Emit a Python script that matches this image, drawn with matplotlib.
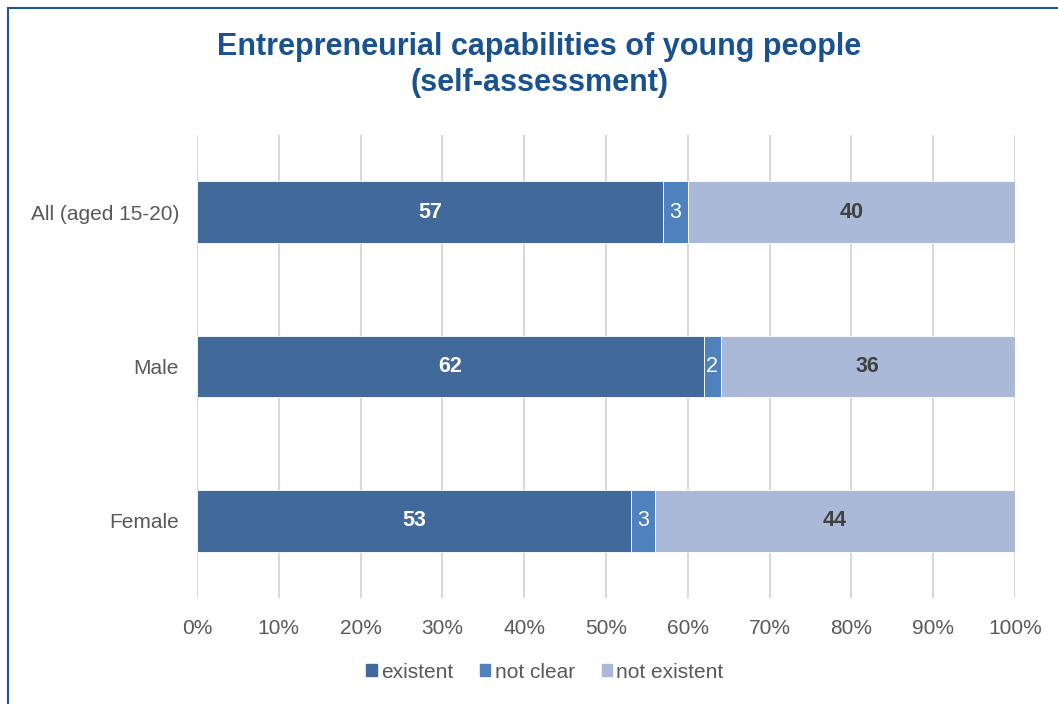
import matplotlib.pyplot as plt
from matplotlib.lines import Line2D
from matplotlib.patches import Patch

# Daten
gruppen = ['All (aged 15-20)', 'Male', 'Female']
existent = [57, 62, 53]
not_clear = [3, 2, 3]
not_existent = [40, 36, 44]
serien = ['existent', 'not clear', 'not existent']
farben = ['#416A9A', '#4F81BD', '#A9B9D7']
text_farben = ['white', 'white', '#404040']
text_gewicht = ['bold', 'normal', 'bold']

plt.rcParams['font.family'] = ['Liberation Sans', 'DejaVu Sans']

fig = plt.figure(figsize=(10.58, 7.04), dpi=100)
ax = fig.add_axes([197 / 1058, 1 - 598 / 704, (1015 - 197) / 1058, (598 - 135) / 704])

y = list(range(len(gruppen)))
links = [0] * len(gruppen)
for werte, name, farbe, tf, tg in zip([existent, not_clear, not_existent], serien, farben, text_farben, text_gewicht):
    bars = ax.barh(y, werte, left=links, height=0.4, color=farbe, label=name,
                   edgecolor='white', linewidth=0.6)
    for b, w, l in zip(bars, werte, links):
        ax.text(l + w / 2, b.get_y() + b.get_height() / 2, str(w), ha='center', va='center',
                color=tf, fontweight=tg, fontsize=15.5)
    links = [a + b for a, b in zip(links, werte)]

ax.set_xlim(0, 100)
ax.set_ylim(2.5, -0.5)
ax.set_yticks(y)
ax.set_yticklabels(gruppen)
ax.set_xticks(range(0, 101, 10))
ax.set_xticklabels([f'{v}%' for v in range(0, 101, 10)])
ax.tick_params(axis='both', length=0, labelsize=15, colors='#595959')
ax.tick_params(axis='y', pad=13)
ax.tick_params(axis='x', pad=15)
ax.xaxis.grid(True, color='#D9D9D9', linewidth=1.5)
ax.set_axisbelow(True)
for s in ax.spines.values():
    s.set_visible(False)

fig.text(0.51, 1 - 65 / 704, 'Entrepreneurial capabilities of young people\n(self-assessment)',
         ha='center', va='center', fontsize=22, fontweight='bold', color='#1A5290',
         linespacing=1.28)

handles = [Patch(color=c) for c in farben]
fig.legend(handles, serien, loc='center', bbox_to_anchor=(0.515, 1 - 672 / 704), ncol=3,
           frameon=False, fontsize=15, labelcolor='#595959', handlelength=0.5, handleheight=0.5,
           handletextpad=0.2, columnspacing=1.3)

# Rahmen
fig.add_artist(Line2D([8 / 1058, 8 / 1058], [0, 1 - 8 / 704], color='#1F5591', linewidth=1.5))
fig.add_artist(Line2D([8 / 1058, 1], [1 - 8 / 704, 1 - 8 / 704], color='#1F5591', linewidth=1.5))

fig.savefig('out.png', dpi=100)
